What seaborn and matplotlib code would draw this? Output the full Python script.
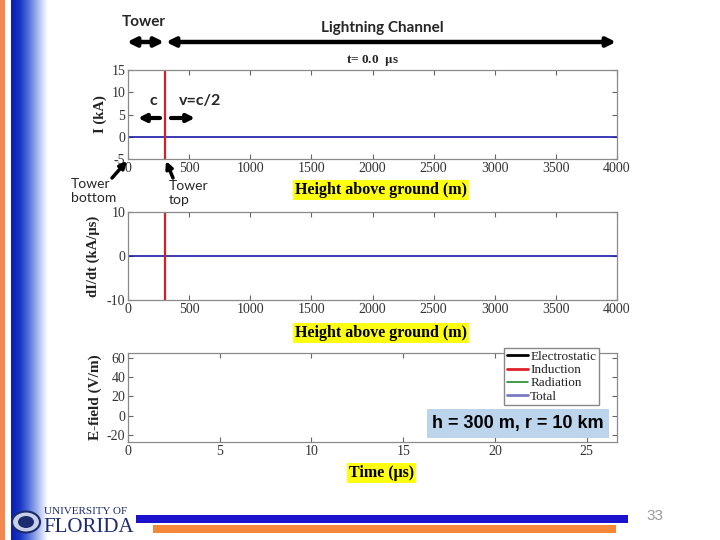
import numpy as np
import matplotlib
matplotlib.use("Agg")
import matplotlib.pyplot as plt
import seaborn as sns
from matplotlib.patches import Rectangle, Circle, FancyArrowPatch
from matplotlib.colors import LinearSegmentedColormap

# --- DADOS ---
altura_m = [0, 4000]
corrente_kA = [0, 0]
derivada_kA_us = [0, 0]
altura_torre_m = 300
tempo_us = [0.0]
e_eletrostatico = [0.0]
e_inducao = [0.0]
e_radiacao = [0.0]
e_total = [0.0]
nomes_campo = ["Electrostatic", "Induction", "Radiation", "Total"]
cores_campo = ["black", "#e0202a", "#1f8a2a", "#7b7bc4"]
ticks_altura = [0, 500, 1000, 1500, 2000, 2500, 3000, 3500, 4000]
ticks_corrente = [-5, 0, 5, 10, 15]
ticks_derivada = [-10, 0, 10]
ticks_tempo = [0, 5, 10, 15, 20, 25]
ticks_campo = [-20, 0, 20, 40, 60]
# --------------------

sns.set_style("ticks")
plt.rcParams["font.family"] = ["Liberation Serif", "DejaVu Serif"]
plt.rcParams["axes.unicode_minus"] = False
plt.rcParams["mathtext.fontset"] = "stix"

W, H = 720, 540
fig = plt.figure(figsize=(7.2, 5.4), dpi=100)


def px(x, y):
    """pixel (topo-esquerda) -> fração da figura"""
    return (x / W, 1 - y / H)


def eixo(x0, y0, x1, y1):
    return fig.add_axes([x0 / W, 1 - y1 / H, (x1 - x0) / W, (y1 - y0) / H])


def estilo(ax):
    for s in ax.spines.values():
        s.set_color("#8a8a8a")
        s.set_linewidth(0.9)
    ax.tick_params(direction="in", top=True, right=True, length=3.5, width=0.8,
                   color="#666666", labelcolor="#333333", labelsize=10, pad=2)


def rotulo_amarelo(ax, texto, y_frac):
    ax.set_xlabel(texto, fontsize=11.5, fontweight="bold", color="black",
                  bbox=dict(facecolor="#ffff10", edgecolor="none", pad=1.5))
    ax.xaxis.set_label_coords(0.518, y_frac)
    ax.xaxis.label.set_verticalalignment("center")


def rotulo_y(ax, texto, x_frac, tam=10.5):
    ax.set_ylabel(texto, fontsize=tam, fontweight="bold", color="#222222")
    ax.yaxis.set_label_coords(x_frac, 0.5)
    ax.yaxis.label.set_verticalalignment("center")


# --- decoração do slide ---
fig.patches.append(Rectangle(px(0, 540), 5 / W, 1, transform=fig.transFigure,
                             facecolor="#f4894f", edgecolor="none", zorder=0))
ax_grad = fig.add_axes([11 / W, 0, 37 / W, 1], zorder=0)
cmap_grad = LinearSegmentedColormap.from_list(
    "grad", ["#0a1db0", "#1836c4", "#5a78dc", "#aebdf0", "#ffffff"])
ax_grad.imshow(np.linspace(0, 1, 64)[None, :], aspect="auto", cmap=cmap_grad)
ax_grad.axis("off")

fig.patches.append(Rectangle(px(136, 523), (628 - 136) / W, 8 / H, transform=fig.transFigure,
                             facecolor="#1a12cc", edgecolor="none"))
fig.patches.append(Rectangle(px(153, 533), (616 - 153) / W, 8 / H, transform=fig.transFigure,
                             facecolor="#f5873a", edgecolor="none"))
fig.text(*px(655, 516), "33", fontsize=11, color="#9a9a9a", ha="center", va="center",
         family=["Liberation Sans"])
fig.patches.append(Circle(px(26, 522), 14 / W, transform=fig.transFigure,
                          facecolor="#c8d0e8", edgecolor="#1c2a6e", lw=1.5))
fig.patches.append(Circle(px(26, 522), 8 / W, transform=fig.transFigure,
                          facecolor="#1c2a6e", edgecolor="none"))
fig.text(*px(44, 512), "UNIVERSITY OF", fontsize=8, color="#1c2a6e", ha="left", va="center")
fig.text(*px(43, 528), "FLORIDA", fontsize=15, color="#1c2a6e", ha="left", va="center")

# --- painel 1: corrente ---
ax1 = eixo(128, 70, 617, 159)
sns.lineplot(x=altura_m, y=corrente_kA, color="#1a1aa8", lw=1.2, ax=ax1)
ax1.axvline(altura_torre_m, color="#d42020", lw=1.6)
ax1.set_xlim(0, 4000)
ax1.set_ylim(-5, 15)
ax1.set_xticks(ticks_altura)
ax1.set_yticks(ticks_corrente)
estilo(ax1)
ax1.set_title(r"t= 0.0  $\mathbf{\mu}$s", fontsize=9.5, fontweight="bold", pad=5)
rotulo_amarelo(ax1, "Height above ground (m)", -0.35)
rotulo_y(ax1, "I (kA)", -0.057)

# --- painel 2: derivada ---
ax2 = eixo(128, 212, 617, 300)
sns.lineplot(x=altura_m, y=derivada_kA_us, color="#1a1aa8", lw=1.2, ax=ax2)
ax2.axvline(altura_torre_m, color="#d42020", lw=1.6)
ax2.set_xlim(0, 4000)
ax2.set_ylim(-10, 10)
ax2.set_xticks(ticks_altura)
ax2.set_yticks(ticks_derivada)
estilo(ax2)
rotulo_amarelo(ax2, "Height above ground (m)", -0.375)
rotulo_y(ax2, "dI/dt (kA/\u03bcs)", -0.072)

# --- painel 3: campo elétrico ---
ax3 = eixo(128, 353, 617, 442)
for serie, nome, cor in zip([e_eletrostatico, e_inducao, e_radiacao, e_total],
                            nomes_campo, cores_campo):
    sns.lineplot(x=tempo_us, y=serie, color=cor, label=nome,
                 lw=2 if nome != "Radiation" else 1.2, ax=ax3)
ax3.set_xlim(0, 26.65)
ax3.set_ylim(-27.5, 65)
ax3.set_xticks(ticks_tempo)
ax3.set_yticks(ticks_campo)
estilo(ax3)
rotulo_amarelo(ax3, "Time (\u03bcs)", -0.348)
rotulo_y(ax3, "E-field (V/m)", -0.067, tam=11)
leg = ax3.legend(loc="upper right", bbox_to_anchor=(0.963, 1.056), fontsize=9.5,
                 handlelength=1.6, handletextpad=0.2, borderpad=0.2,
                 labelspacing=0.08, borderaxespad=0, fancybox=False,
                 framealpha=1, edgecolor="#888888")
for t in leg.get_texts():
    t.set_color("#222222")
fig.text(*px(518, 423.5), "h = 300 m, r = 10 km", fontsize=13, fontweight="bold",
         color="black", family=["Liberation Sans"], ha="center", va="center", zorder=5,
         bbox=dict(facecolor="#bdd5ec", edgecolor="none", pad=4))

# --- anotações ---
fonte_anot = ["Lato", "DejaVu Sans"]


def seta(a, b, estilo_seta="<|-|>", lw=3.2, ms=13):
    fig.add_artist(FancyArrowPatch(px(*a), px(*b), transform=fig.transFigure,
                                   arrowstyle=estilo_seta, mutation_scale=ms,
                                   lw=lw, color="black", shrinkA=0, shrinkB=0))


fig.text(*px(144, 22), "Tower", fontsize=11, fontweight="bold", family=fonte_anot,
         ha="center", va="center")
fig.text(*px(382, 28), "Lightning Channel", fontsize=11, fontweight="bold",
         family=fonte_anot, ha="center", va="center")
seta((127, 42), (164, 42))
seta((166, 42), (616, 42))

fig.text(*px(153, 101), "c", fontsize=11.5, fontweight="bold", family=fonte_anot,
         ha="center", va="center")
fig.text(*px(200, 101), "v=c/2", fontsize=11.5, fontweight="bold", family=fonte_anot,
         ha="center", va="center")
seta((160, 118), (138, 118), "-|>", lw=3, ms=11)
seta((171, 118), (195, 118), "-|>", lw=3, ms=11)

fig.text(*px(71, 191), "Tower\nbottom", fontsize=10, family=fonte_anot,
         ha="left", va="center", linespacing=1.2)
fig.text(*px(169, 193), "Tower\ntop", fontsize=10, family=fonte_anot,
         ha="left", va="center", linespacing=1.2)
seta((112, 178), (127, 161), "-|>", lw=2.5, ms=10)
seta((173, 178), (166, 161), "-|>", lw=2.5, ms=10)

fig.savefig("out.png", dpi=100)
plt.close(fig)
